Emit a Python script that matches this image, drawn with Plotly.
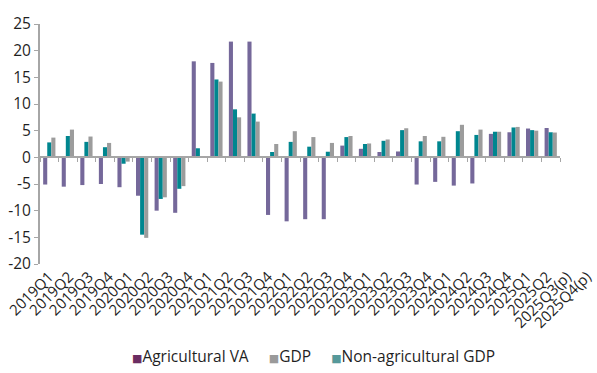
import plotly.graph_objects as go

# Quarterly growth rates (%), year on year
quarters = [
    "2019Q1", "2019Q2", "2019Q3", "2019Q4",
    "2020Q1", "2020Q2", "2020Q3", "2020Q4",
    "2021Q1", "2021Q2", "2021Q3", "2021Q4",
    "2022Q1", "2022Q2", "2022Q3", "2022Q4",
    "2023Q1", "2023Q2", "2023Q3", "2023Q4",
    "2024Q1", "2024Q2", "2024Q3", "2024Q4",
    "2025Q1", "2025Q2", "2025Q3(p)", "2025Q4(p)",
]
agricultural_va = [
    -5.1, -5.5, -5.2, -5.0,
    -5.6, -7.2, -10.0, -10.4,
    18.0, 17.7, 21.7, 21.7,
    -10.8, -12.0, -11.6, -11.6,
    2.2, 1.6, 1.0, 1.1,
    -5.1, -4.6, -5.3, -4.9,
    4.4, 4.7, 5.4, 5.5,
]
non_agricultural_gdp = [
    2.8, 4.0, 2.9, 1.9,
    -1.2, -14.5, -7.8, -5.9,
    1.7, 14.6, 9.0, 8.2,
    1.0, 2.9, 2.0, 1.05,
    3.8, 2.5, 3.1, 5.1,
    3.0, 3.0, 4.9, 4.2,
    4.8, 5.6, 5.1, 4.7,
]
gdp = [
    3.7, 5.2, 3.9, 2.7,
    -0.8, -15.1, -7.5, -5.4,
    None, 14.2, 7.5, 6.7,
    2.5, 4.9, 3.8, 2.7,
    4.0, 2.6, 3.35, 5.45,
    4.0, 3.85, 6.1, 5.2,
    4.8, 5.7, 5.0, 4.65,
]
y_ticks = [-20, -15, -10, -5, 0, 5, 10, 15, 20, 25]

FONT = "Open Sans"
TEXT = "#1f1f1f"
AXIS = "#a6a6a6"

bar_series = [
    ("Agricultural VA", agricultural_va, "#75689a"),
    ("Non-agricultural GDP", non_agricultural_gdp, "#00868f"),
    ("GDP", gdp, "#9c9c9c"),
]
legend_series = [
    ("Agricultural VA", "#6b2d62"),
    ("GDP", "#9a9a9a"),
    ("Non-agricultural GDP", "#56999a"),
]

# Layout geometry (pixels)
W, H = 597, 373
M_L, M_R, M_T, M_B = 40, 0, 24, 109
plot_w = W - M_L - M_R
bars_w = 520                         # width of the bar area
label_first, label_step = 49, 19.92  # rotated category labels are spread a bit wider

fig = go.Figure()
for name, values, color in bar_series:
    fig.add_trace(go.Bar(
        x=quarters, y=values, name=name,
        marker=dict(color=color, line=dict(width=0)),
        showlegend=False,
    ))

# Zero line carrying the category ticks
fig.add_trace(go.Scatter(
    x=quarters, y=[0] * len(quarters), mode="lines",
    line=dict(width=0), hoverinfo="skip", showlegend=False,
    xaxis="x2",
))
# Carrier for the rotated category labels
idx = list(range(len(quarters)))
fig.add_trace(go.Scatter(
    x=idx, y=[0] * len(idx), mode="lines",
    line=dict(width=0), hoverinfo="skip", showlegend=False,
    xaxis="x3",
))

# Compact legend: coloured square followed by the series name
legend_text = "&nbsp;" * 5
legend_text = legend_text.join(
    f"<span style='color:{color}; font-family:DejaVu Sans; font-size:11px'>■</span>{name}"
    for name, color in legend_series
)
fig.add_annotation(
    text=legend_text, showarrow=False,
    xref="paper", yref="paper", x=(313 - M_L) / plot_w, y=-0.385,
    xanchor="center", yanchor="middle",
    font=dict(family=FONT, size=15.5, color=TEXT),
)

y_min, y_max = y_ticks[0], y_ticks[-1]
r0 = -(label_first - M_L) / label_step
r1 = r0 + plot_w / label_step
fig.update_layout(
    width=W, height=H,
    margin=dict(l=M_L, r=M_R, t=M_T, b=M_B),
    paper_bgcolor="white", plot_bgcolor="rgba(0,0,0,0)",
    font=dict(family=FONT, size=12, color=TEXT),
    barmode="group", bargap=0.34, bargroupgap=0,
    showlegend=False,
    xaxis=dict(
        type="category", domain=[0, bars_w / plot_w], automargin=False,
        showline=False, showgrid=False, zeroline=False,
        ticks="", showticklabels=False,
    ),
    xaxis2=dict(
        type="category", matches="x", overlaying="x",
        anchor="free", position=(0 - y_min) / (y_max - y_min),
        showline=True, linecolor=AXIS, linewidth=2,
        ticks="outside", tickson="boundaries", ticklen=4,
        tickcolor=AXIS, tickwidth=1,
        showticklabels=False, showgrid=False, zeroline=False,
    ),
    xaxis3=dict(
        type="linear", domain=[0, 1], anchor="free", position=0,
        range=[r0, r1], tickvals=idx, ticktext=quarters,
        tickangle=-45, automargin=False, ticklabeloverflow="allow",
        showline=False, showgrid=False, zeroline=False, ticks="",
        tickfont=dict(family=FONT, size=15, color=TEXT),
    ),
    yaxis=dict(
        range=[y_min, y_max], tickvals=y_ticks,
        ticktext=[str(v) for v in y_ticks], automargin=False,
        showline=True, linecolor=AXIS, linewidth=2,
        ticks="outside", ticklen=4, tickcolor=AXIS,
        showgrid=False, zeroline=False,
        tickfont=dict(family=FONT, size=15.5, color=TEXT),
    ),
)

fig.write_html("out.html")
